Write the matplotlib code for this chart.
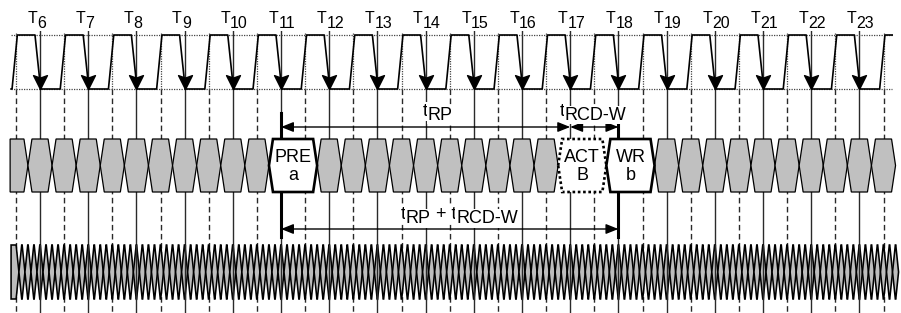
import matplotlib.pyplot as plt
import numpy as np
from matplotlib.path import Path
from matplotlib.patches import Polygon
from matplotlib.transforms import offset_copy

plt.rcParams['font.family'] = ['Liberation Sans', 'DejaVu Sans']

# clock cycles shown along the top
cycles = list(range(6, 24))

# commands on the command bus (each one takes a full cycle slot)
cmd_names = ['PRE', 'ACT', 'WR']
cmd_args = ['a', 'B', 'b']
cmd_cycle = [11, 17, 18]
cmd_dotted = [False, True, False]

# timing intervals, in cycles
trp = (11, 17)
trcd = (17, 18)
ttotal = (11, 18)

# horizontal extent of each waveform, in cycles
clk_span = (5.40, 23.68)
cmd_span = (5.38, 23.75)
dq_span = (5.40, 23.8125)
dq_per_cycle = 8

# layout in pixels from the top
PERIOD_PX = 48.2
T6_PX = 40.0
Y_CLK_HI, Y_CLK_LO = 35, 89
Y_CMD_TOP, Y_CMD_BOT = 139, 192
Y_DQ_TOP, Y_DQ_BOT = 245, 299

fig = plt.figure(figsize=(9.01, 3.13), dpi=100)
ax = fig.add_axes([0, 0, 1, 1])
x_left = 6 - T6_PX / PERIOD_PX
ax.set_xlim(x_left, x_left + 901 / PERIOD_PX)
ax.set_ylim(313, 0)
ax.axis('off')
px = 1.0 / PERIOD_PX  # one pixel in cycle units


def rich_text(x, y, parts, size, ha='center', drop=4):
    # text with full size subscripts
    r = fig.canvas.get_renderer()
    objs = []
    widths = []
    for s, is_sub in parts:
        t = ax.text(x, y, s, fontsize=size, ha='left', va='baseline', zorder=6,
                    bbox=dict(facecolor='white', edgecolor='none', pad=0.6))
        objs.append((t, is_sub))
        widths.append(t.get_window_extent(r).width)
    total = sum(widths)
    off = -total / 2 if ha == 'center' else 0
    for (t, is_sub), w in zip(objs, widths):
        t.set_transform(offset_copy(ax.transData, fig=fig, x=off,
                                    y=-drop if is_sub else 0, units='dots'))
        off += w


def cell(l, r, top, bot, s, flat_left=False, **kw):
    mid = (top + bot) / 2
    if flat_left:
        pts = [(l, top), (r - s, top), (r, mid), (r - s, bot), (l, bot)]
    else:
        pts = [(l, mid), (l + s, top), (r - s, top), (r, mid), (r - s, bot), (l + s, bot)]
    ax.add_patch(Polygon(pts, closed=True, **kw))


# vertical reference lines
for c in cycles:
    ax.plot([c, c], [29, 313], color='#2a2a2a', lw=1.0, zorder=1)
    # solid lines show through the data bus
    ax.plot([c, c], [Y_DQ_TOP, Y_DQ_BOT], color='#2a2a2a', lw=1.0, zorder=4)
half = [c - 0.5 for c in cycles] + [cycles[-1] + 0.5]
for h in half:
    ax.plot([h, h], [Y_CLK_LO, 313], color='#2a2a2a', lw=1.0, ls=(0, (4, 2.5)), zorder=1)
    ax.plot([h, h], [33, Y_CLK_LO], color='#444444', lw=0.9, ls=(0, (1, 1)), zorder=1)

# clock, ideal levels dotted
ax.plot(clk_span, [Y_CLK_HI, Y_CLK_HI], color='#444444', lw=0.9, ls=(0, (1, 1)), zorder=1)
ax.plot(clk_span, [Y_CLK_LO, Y_CLK_LO], color='#444444', lw=0.9, ls=(0, (1, 1)), zorder=1)
cx = [clk_span[0]]
cy = [Y_CLK_LO]
for c in cycles:
    cx += [c - 0.58, c - 0.47, c - 0.104, c + 0.014]
    cy += [Y_CLK_LO, Y_CLK_HI, Y_CLK_HI, Y_CLK_LO]
cx += [cycles[-1] + 0.42, cycles[-1] + 0.53, clk_span[1]]
cy += [Y_CLK_LO, Y_CLK_HI, Y_CLK_HI]
ax.plot(cx, cy, color='black', lw=1.2, zorder=3)

head = Path([(0, 0), (-0.5, 1), (0, 0.82), (0.5, 1), (0, 0)],
            [Path.MOVETO, Path.LINETO, Path.LINETO, Path.LINETO, Path.CLOSEPOLY])
ax.plot(cycles, [Y_CLK_LO] * len(cycles), ls='none', marker=head, ms=20,
        color='black', zorder=4)

for c in cycles:
    rich_text(c - 12.5 * px, 23, [('T', False), (str(c), True)], 11.5, ha='left', drop=4.5)

# command bus
merged = set()
for c in cmd_cycle:
    merged.update([c, c + 0.5])
centers = np.arange(5.5, 23.51, 0.5)
s_cmd = 4 * px
for i, m in enumerate(centers):
    if m in merged:
        continue
    l = max(m - 0.25, cmd_span[0])
    cell(l, m + 0.25, Y_CMD_TOP, Y_CMD_BOT, s_cmd, flat_left=(i == 0),
         facecolor='#c0c0c0', edgecolor='black', lw=0.9, zorder=3)
for name, arg, c, dotted in zip(cmd_names, cmd_args, cmd_cycle, cmd_dotted):
    cell(c - 0.25, c + 0.75, Y_CMD_TOP, Y_CMD_BOT, s_cmd,
         facecolor='white', edgecolor='black', lw=1.9,
         ls=(0, (1, 1)) if dotted else '-', zorder=3)
    ax.text(c + 0.25, 162, name, fontsize=13, ha='center', va='baseline', zorder=6)
    ax.text(c + 0.25, 180, arg, fontsize=13, ha='center', va='baseline', zorder=6)

# data bus
s_dq = 2.8 * px
edges = [dq_span[0]] + list(np.arange(5.5625, dq_span[1] + 1e-6, 1.0 / dq_per_cycle))
for i in range(len(edges) - 1):
    cell(edges[i], edges[i + 1], Y_DQ_TOP, Y_DQ_BOT, s_dq, flat_left=(i == 0),
         facecolor='#bdbdbd', edgecolor='black', lw=1.15, zorder=3)

# timing markers
ax.plot([trp[0], trp[0]], [113, 237], color='black', lw=2.2, zorder=2)
ax.plot([ttotal[1], ttotal[1]], [120, 237], color='black', lw=2.2, zorder=2)


def span_arrow(a, b, y):
    ax.annotate('', xy=(a, y), xytext=(b, y), zorder=5,
                arrowprops=dict(arrowstyle='<|-|>,head_length=0.75,head_width=0.3',
                                color='black', lw=1.0, shrinkA=0, shrinkB=0))


span_arrow(trp[0], trp[1], 127)
span_arrow(trcd[0], trcd[1], 127)
span_arrow(ttotal[0], ttotal[1], 229)

rich_text(14.25, 116, [('t', False), ('RP', True)], 13, drop=3.5)
rich_text(17.48, 116, [('t', False), ('RCD-W', True)], 13, drop=3.5)
rich_text(14.7, 219, [('t', False), ('RP', True), (' + t', False), ('RCD-W', True)], 13, drop=4)

fig.savefig('out.png', dpi=100)
